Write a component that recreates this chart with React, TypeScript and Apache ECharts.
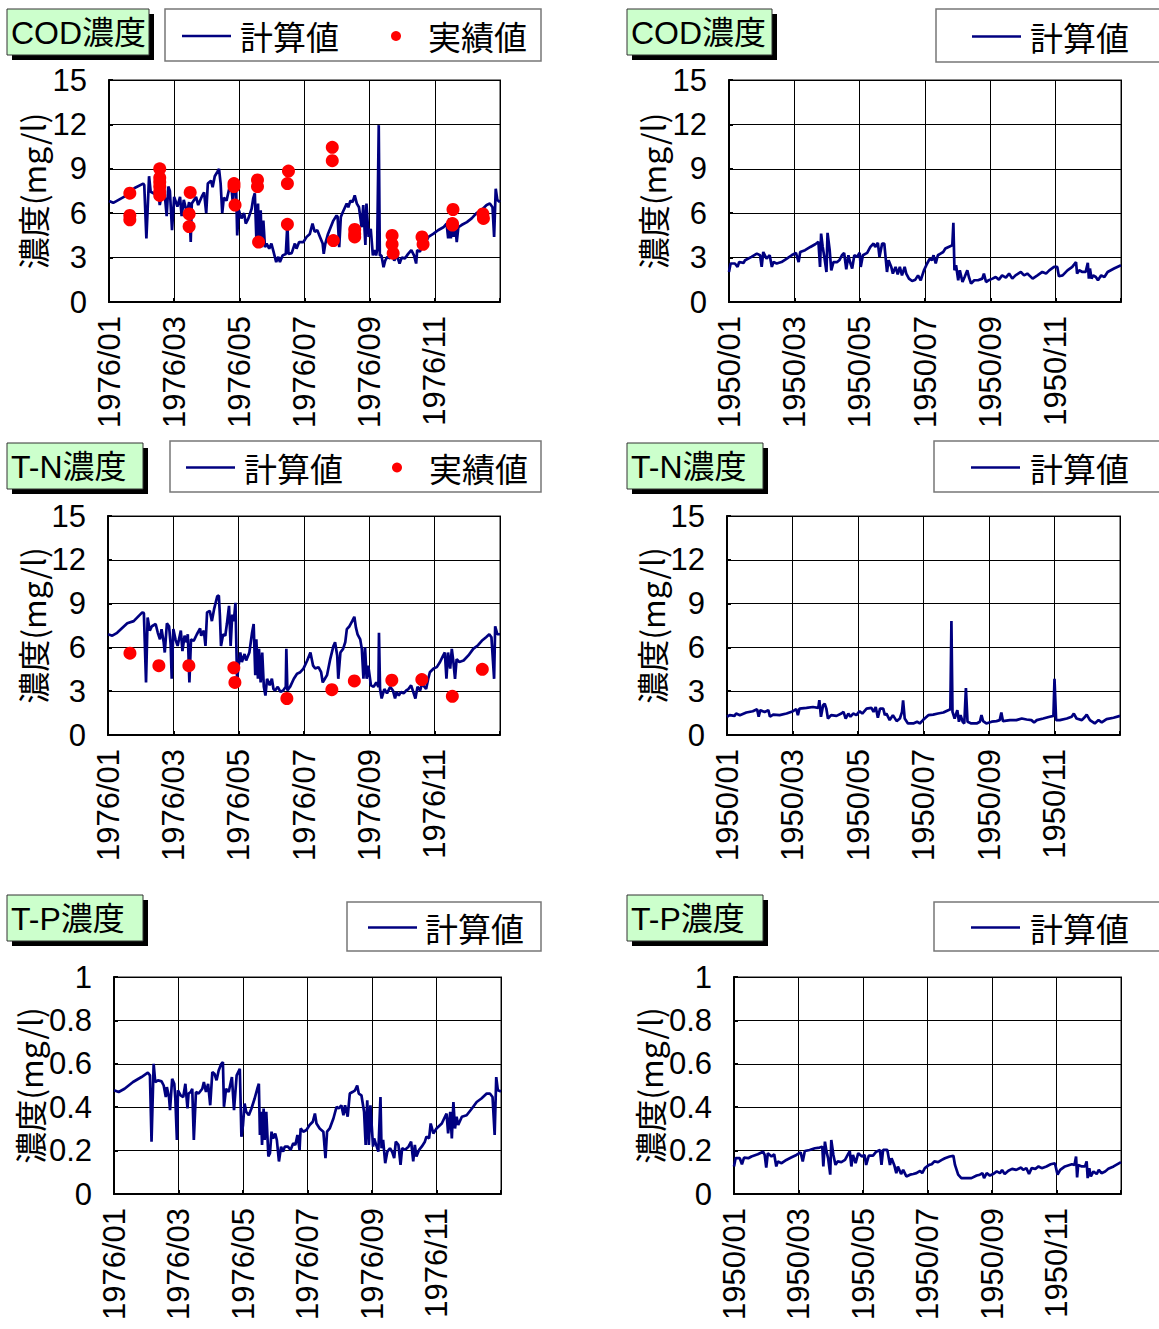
import React, { useEffect, useRef } from "react";
import * as echarts from "echarts";

// ---- tick labels ----
const labels1976 = ["1976/01", "1976/03", "1976/05", "1976/07", "1976/09", "1976/11", ""];
const labels1950 = ["1950/01", "1950/03", "1950/05", "1950/07", "1950/09", "1950/11", ""];
const yNameText = "濃度(mg/l)";
const seriesCalcName = "計算値";
const seriesObsName = "実績値";

// ---- data: [day of year, value] ----
const codCalc1976 = [
  [0, 6.83], [4, 6.7], [16.5, 7.2], [24, 7.7], [32, 8.0], [33, 7.9], [35, 4.3], [37.5, 8.5], [39, 7.45], [43, 7.3],
  [46, 7.6], [47.5, 6.55], [49.5, 7.3], [52.5, 7.0], [54, 5.8], [55.5, 7.8], [57, 7.5], [59, 4.85], [61, 7.1], [64, 6.45],
  [66.5, 7.1], [68, 5.8], [70, 6.9], [73, 6.0], [75, 6.75], [76.5, 4.05], [77.5, 6.65], [81.5, 7.1], [83.5, 6.55], [87, 7.15],
  [89, 7.4], [91, 6.0], [92.5, 8.0], [95.5, 8.2], [97, 7.75], [99, 8.5], [101.5, 8.8], [103, 9.0], [104.5, 8.0], [106, 6.0],
  [107.5, 7.05], [110, 6.85], [112.5, 7.65], [114, 8.25], [116, 6.65], [117.5, 8.1], [119, 7.65], [120, 4.5], [121.5, 6.2], [124, 5.65],
  [126.5, 6.0], [128, 5.3], [130.5, 5.65], [133.5, 6.3], [135, 7.0], [136.5, 7.35], [138, 4.15], [139.5, 6.65], [140.5, 3.95], [142, 6.2],
  [143, 3.7], [144.5, 5.5], [146, 3.7], [147.5, 3.95], [150, 3.6], [152, 3.95], [154, 3.4], [156.5, 2.7], [158.5, 3.05], [160, 2.7],
  [162.5, 3.15], [165.5, 3.25], [167, 5.3], [168, 3.25], [171, 3.3], [174, 3.95], [175.5, 3.6], [178, 4.05], [182, 4.05], [185, 4.4],
  [188, 4.6], [190.5, 5.3], [192.5, 4.75], [195, 4.85], [197.5, 4.4], [200, 3.95], [201, 3.25], [202.5, 3.95], [205, 4.6], [210, 5.5],
  [213, 5.85], [214, 5.75], [215.5, 3.7], [217, 5.75], [219, 6.1], [222.5, 6.65], [224, 6.4], [226, 6.85], [228, 6.75], [230, 7.2],
  [232, 6.65], [234, 6.4], [236.5, 5.05], [238, 6.55], [240, 3.85], [241, 6.65], [243, 4.4], [245, 4.95], [247, 3.15], [248.5, 3.5],
  [250, 3.15], [251, 3.5], [252.5, 11.95], [253.5, 3.15], [255, 3.15], [257, 2.35], [258.5, 2.8], [260.5, 3.05], [263, 2.95], [265.5, 3.25],
  [267, 2.8], [269.5, 3.15], [272, 2.6], [274, 3.0], [277, 2.95], [280, 3.25], [283, 3.5], [285.5, 3.15], [287.5, 2.6], [288.5, 3.5],
  [291, 3.4], [293.5, 3.85], [296, 3.95], [299, 4.4], [303.5, 4.6], [308, 4.85], [313, 5.05], [316, 5.3], [317.5, 4.3], [318.5, 5.65],
  [320, 4.3], [321, 5.3], [322.5, 4.4], [324, 5.3], [325.5, 4.05], [327, 5.05], [330, 5.2], [335, 5.4], [339.5, 5.65], [344, 6.0],
  [348.5, 6.2], [353.5, 6.55], [356.5, 6.65], [359, 6.4], [360.5, 4.4], [362, 7.65], [363.5, 6.9], [366, 6.75],
];
const codObs1976 = [
  [19.5, 7.35], [19.5, 5.85], [19.5, 5.55],
  [47.5, 9.0], [47.5, 8.4], [47.5, 8.1], [47.5, 7.8], [47.5, 7.45], [47.5, 7.2],
  [76, 7.4], [75, 5.95], [75, 5.1],
  [117, 8.0], [117, 7.8], [118, 6.55],
  [139, 8.25], [139, 7.8], [140, 4.05],
  [168, 8.85], [167, 8.0], [167, 5.25],
  [209, 10.45], [209, 9.55], [210, 4.15],
  [230, 4.9], [230, 4.6], [230, 4.4],
  [265, 4.5], [265, 3.9], [266, 3.3],
  [293, 4.4], [294, 3.9],
  [322, 6.25], [321.5, 5.3], [321.5, 5.2],
  [350, 5.95], [350.5, 5.65],
];
const tnCalc1976 = [
  [0, 6.9], [4, 6.8], [8.5, 7.0], [18, 7.65], [24, 7.8], [32, 8.4], [33.5, 8.35], [35.5, 3.6], [37, 8.05], [39, 7.15],
  [41, 7.45], [44.5, 7.6], [46.5, 7.0], [48.5, 6.55], [50, 7.25], [52, 6.35], [53, 5.65], [55, 7.65], [57, 7.45], [58.5, 6.2],
  [59.5, 3.85], [61, 7.25], [63, 6.55], [65, 6.1], [68, 7.15], [69.5, 5.75], [71.5, 6.8], [73.5, 6.35], [74.5, 6.9], [76, 3.6],
  [77.5, 6.55], [80, 6.45], [83, 6.9], [86, 7.3], [87, 6.8], [89.5, 7.15], [91, 6.1], [92.5, 8.4], [95, 8.5], [97, 7.8],
  [99, 8.6], [102, 9.5], [103.5, 9.55], [104.5, 8.15], [105.5, 6.1], [107.5, 6.9], [109.5, 6.8], [111, 7.6], [113, 8.85], [114.5, 6.1],
  [116, 8.25], [117.5, 7.8], [119, 9.05], [120.5, 3.85], [122, 4.75], [123.5, 5.65], [125, 5.0], [127.5, 5.55], [129, 5.1], [132, 5.65],
  [134.5, 7.0], [136, 7.6], [137.5, 4.1], [138.5, 6.55], [140, 3.85], [141, 5.9], [142.5, 3.6], [144, 5.65], [145.5, 3.3], [147, 2.7],
  [148.5, 3.85], [151, 3.4], [153, 3.85], [154.5, 3.15], [156, 3.05], [158.5, 3.3], [161, 2.95], [163.5, 3.05], [166, 3.3], [166.5, 5.9],
  [167.5, 3.05], [170, 3.3], [173.5, 3.85], [176.5, 4.2], [179.5, 4.3], [182.5, 4.55], [186, 5.1], [189, 5.65], [191.5, 4.75], [193.5, 4.55],
  [196.5, 4.65], [199, 4.3], [200.5, 3.6], [202.5, 3.85], [204.5, 4.1], [207.5, 5.2], [210.5, 6.1], [212, 6.35], [214, 5.45], [215, 3.85],
  [217, 5.65], [219.5, 5.9], [221.5, 6.35], [223, 7.25], [225.5, 7.45], [228, 7.8], [230, 8.1], [231.5, 7.35], [233, 6.9], [235.5, 6.55],
  [237, 5.9], [238.5, 3.85], [240, 6.0], [241.5, 3.85], [243, 4.75], [245.5, 3.4], [248, 3.3], [250.5, 3.6], [252.5, 3.3], [253, 7.0],
  [254, 3.15], [255.5, 2.5], [258, 3.15], [260.5, 2.85], [263.5, 3.3], [266, 3.05], [268, 2.5], [269.5, 2.95], [271.5, 2.7], [273.5, 2.95],
  [276, 2.85], [278.5, 3.05], [280.5, 3.15], [283, 3.4], [285, 2.95], [287, 2.5], [289, 3.3], [291.5, 3.05], [293, 3.5], [295.5, 3.3],
  [297, 3.15], [299, 3.85], [300.5, 4.3], [304, 4.55], [307, 4.65], [310, 5.0], [313, 5.45], [314.5, 5.65], [316, 3.85], [317.5, 5.65],
  [319.5, 4.55], [321, 5.9], [322.5, 5.0], [324, 3.85], [325.5, 5.2], [328, 5.0], [332, 5.1], [336.5, 5.45], [341, 5.9], [345.5, 6.15],
  [349, 6.45], [353, 6.7], [356, 6.9], [358, 6.7], [360.5, 3.85], [361.5, 7.45], [363.5, 6.9], [366, 6.9],
];
const tnObs1976 = [
  [20.5, 5.6], [47.5, 4.75], [75.5, 4.75], [117.5, 4.6], [118.5, 3.6], [167, 2.5],
  [209, 3.1], [230, 3.7], [265, 3.75], [293, 3.8], [321.5, 2.65], [349.5, 4.5],
];
const tpCalc1976 = [
  [0, 0.478], [4.4, 0.47], [10, 0.485], [18, 0.516], [26, 0.539], [32, 0.559], [34, 0.547], [35.5, 0.241], [37.5, 0.6], [39, 0.516],
  [41.5, 0.524], [45, 0.519], [47, 0.5], [49, 0.447], [50, 0.493], [52, 0.447], [53, 0.386], [55, 0.531], [57, 0.508], [58, 0.44],
  [59.5, 0.249], [60.5, 0.478], [63, 0.455], [65.5, 0.447], [67.5, 0.508], [69.5, 0.394], [70.5, 0.463], [72.5, 0.47], [74, 0.485], [75.5, 0.249],
  [77.5, 0.47], [80, 0.463], [83.5, 0.485], [85, 0.516], [87, 0.47], [89, 0.508], [91, 0.409], [93, 0.562], [95, 0.554], [97, 0.524],
  [99, 0.569], [101.5, 0.6], [103, 0.608], [104, 0.402], [106, 0.485], [108.5, 0.47], [110.5, 0.516], [111.5, 0.539], [113.5, 0.386], [116, 0.547],
  [117.5, 0.562], [119, 0.577], [120.5, 0.264], [122, 0.318], [123.5, 0.417], [125, 0.379], [127.5, 0.363], [130, 0.394], [133, 0.44], [135.5, 0.485],
  [137, 0.508], [138, 0.272], [139, 0.379], [140, 0.226], [141.5, 0.394], [142.5, 0.249], [144, 0.379], [146, 0.173], [147.5, 0.188], [149, 0.287],
  [150.5, 0.256], [152.5, 0.279], [154, 0.249], [156, 0.15], [158, 0.218], [160, 0.195], [161.5, 0.218], [164.5, 0.218], [167, 0.203], [169.5, 0.234],
  [171.5, 0.226], [173.5, 0.272], [175.5, 0.203], [176.5, 0.302], [179, 0.287], [182, 0.295], [185, 0.318], [188, 0.333], [190, 0.371], [191.5, 0.325],
  [194.5, 0.302], [198, 0.287], [200, 0.165], [201.5, 0.287], [204, 0.302], [207.5, 0.348], [210.5, 0.402], [212.5, 0.394], [215, 0.409], [217, 0.363],
  [218.5, 0.409], [221, 0.356], [223, 0.463], [225.5, 0.47], [228, 0.478], [230, 0.5], [231.5, 0.463], [234, 0.455], [236.5, 0.379], [238, 0.226],
  [239.5, 0.432], [241, 0.226], [242.5, 0.409], [245, 0.218], [246, 0.256], [248.5, 0.218], [250, 0.195], [252, 0.447], [253, 0.211], [254.5, 0.249],
  [256.5, 0.142], [258.5, 0.195], [261, 0.211], [263, 0.195], [265, 0.165], [266.5, 0.241], [269, 0.226], [271, 0.134], [272.5, 0.211], [275, 0.203],
  [278.5, 0.218], [281, 0.241], [283, 0.15], [284.5, 0.226], [286, 0.173], [288.5, 0.203], [291, 0.218], [294, 0.241], [295.5, 0.264], [298, 0.256],
  [299.5, 0.325], [302, 0.279], [305, 0.302], [310, 0.325], [313, 0.356], [314.5, 0.371], [316, 0.279], [318, 0.379], [319.5, 0.256], [321, 0.424],
  [322.5, 0.302], [324, 0.356], [325.5, 0.318], [329, 0.356], [333.5, 0.363], [338.5, 0.394], [343, 0.424], [347.5, 0.44], [352.5, 0.463], [355.5, 0.463],
  [358, 0.447], [360, 0.272], [361.5, 0.539], [363, 0.478], [366, 0.473],
];
const codCalc1950 = [
  [0, 2.03], [1.5, 2.6], [5.5, 2.6], [8, 2.37], [9.5, 2.7], [13.5, 2.64], [15, 2.82], [21, 3.05], [26, 3.27], [29, 3.16],
  [30.5, 2.37], [32, 3.38], [35, 2.93], [38, 3.16], [40, 2.37], [41.5, 2.7], [44.5, 2.6], [49, 2.7], [54, 2.93], [58.5, 3.16],
  [62.5, 3.32], [65, 2.7], [66.5, 3.38], [71, 3.5], [76, 3.72], [80.5, 3.9], [83.5, 4.06], [85, 2.37], [86, 4.62], [87.5, 3.72],
  [89, 3.05], [91, 2.03], [92, 4.67], [94, 3.5], [95.5, 2.14], [97.5, 2.7], [101, 2.7], [103, 2.82], [105.5, 3.16], [107.5, 3.32],
  [109.5, 2.21], [111.5, 3.16], [113, 2.7], [115, 2.26], [117, 3.16], [119.5, 3.05], [122, 3.32], [123, 2.37], [125, 3.16], [129, 3.32],
  [132, 3.72], [135, 3.95], [136.5, 3.72], [139, 4.0], [140.5, 3.05], [143, 3.95], [145, 3.95], [147.5, 2.03], [149, 2.82], [151.5, 2.37],
  [153, 1.92], [155.5, 2.37], [157.5, 1.87], [159.5, 2.37], [161.5, 1.8], [164, 2.37], [165.5, 1.92], [168, 1.58], [171, 1.42], [174, 1.51],
  [176.5, 1.8], [179, 1.47], [182, 2.14], [185, 2.6], [187.5, 2.93], [189.5, 2.82], [191, 3.16], [193, 2.6], [195, 3.16], [197.5, 3.27],
  [200, 3.38], [202, 3.61], [205, 3.72], [208.5, 3.83], [209.5, 5.35], [210.5, 2.14], [212, 2.48], [214, 1.47], [215.5, 2.14], [218, 1.35],
  [220, 1.69], [222.5, 2.14], [224, 1.69], [226, 1.24], [229, 1.47], [232.5, 1.47], [236.5, 1.58], [238, 1.92], [240, 1.35], [242.5, 1.47],
  [246, 1.58], [249, 1.69], [252, 1.51], [255, 1.8], [258.5, 1.65], [261.5, 1.92], [264.5, 1.58], [267.5, 1.8], [272.5, 2.03], [275.5, 1.8],
  [278.5, 1.92], [283.5, 1.58], [288, 1.8], [292.5, 2.03], [296, 1.92], [299, 2.14], [303.5, 2.37], [306.5, 2.37], [308, 1.74], [311.5, 1.8],
  [316, 2.14], [320.5, 2.37], [324, 2.7], [325, 1.92], [327, 2.14], [330, 2.03], [333, 2.03], [335, 2.64], [336, 1.58], [337, 2.26],
  [338.5, 1.58], [340, 1.8], [342.5, 1.69], [344.5, 1.47], [347.5, 1.8], [350.5, 1.69], [353.5, 2.03], [359.5, 2.26], [366, 2.48],
];
const tnCalc1950 = [
  [0, 1.25], [2.5, 1.36], [7, 1.31], [8.5, 1.47], [12, 1.36], [18, 1.54], [24, 1.63], [28, 1.77], [29.5, 1.25], [31, 1.7],
  [35, 1.58], [38.5, 1.7], [40, 1.25], [43, 1.4], [49, 1.36], [55.5, 1.47], [61.5, 1.63], [64.5, 1.77], [66, 1.36], [67.5, 1.81],
  [74, 1.86], [80, 1.92], [85, 1.86], [86, 2.38], [87.5, 1.25], [89.5, 2.04], [91, 2.15], [92.5, 1.81], [94, 1.13], [97, 1.36],
  [102, 1.31], [106.5, 1.47], [108.5, 1.58], [110.5, 1.13], [113, 1.47], [115, 1.25], [117.5, 1.47], [120.5, 1.36], [123.5, 1.63], [126, 1.47],
  [130, 1.81], [134.5, 1.86], [136.5, 1.58], [138.5, 1.92], [140.5, 1.18], [142.5, 1.81], [145.5, 1.81], [147, 1.36], [148.5, 1.47], [151.5, 1.02],
  [154.5, 1.36], [158, 0.95], [161, 1.13], [163, 1.58], [164, 2.38], [165.5, 1.13], [168.5, 0.79], [173.5, 0.79], [177, 0.91], [179.5, 0.79],
  [182.5, 1.02], [187.5, 1.36], [192, 1.4], [196.5, 1.47], [201.5, 1.54], [206, 1.7], [208, 1.77], [209, 7.81], [210, 1.58], [212, 1.13],
  [214.5, 1.7], [216, 0.91], [217.5, 1.36], [219.5, 0.91], [221, 0.79], [222.5, 3.21], [224, 0.91], [227.5, 0.79], [232.5, 0.79], [235.5, 0.91],
  [237, 1.36], [238.5, 0.95], [241.5, 0.79], [246.5, 0.91], [251, 0.95], [254, 1.02], [255.5, 1.54], [257, 0.95], [263.5, 1.02], [269.5, 1.02],
  [274.5, 1.13], [279, 1.06], [283.5, 1.02], [286, 0.86], [288.5, 1.02], [294.5, 1.13], [300.5, 1.25], [304, 1.31], [305, 3.85], [306.5, 1.02],
  [310, 1.02], [316.5, 1.13], [321, 1.25], [323, 1.47], [325.5, 1.13], [330.5, 1.02], [333.5, 1.25], [335, 1.4], [338, 1.02], [342.5, 0.79],
  [346, 1.02], [349, 0.86], [353.5, 1.09], [360, 1.18], [366, 1.31],
];
const tpCalc1950 = [
  [0, 0.127], [1.5, 0.165], [5.5, 0.165], [7.5, 0.137], [9.5, 0.168], [13.5, 0.165], [16.5, 0.173], [22.5, 0.183], [27.5, 0.195], [29, 0.18],
  [30.5, 0.122], [32, 0.188], [35.5, 0.173], [38, 0.183], [40, 0.127], [41.5, 0.15], [45, 0.142], [49.5, 0.157], [54, 0.168], [59, 0.18],
  [63, 0.192], [65, 0.15], [67, 0.198], [71.5, 0.203], [76.5, 0.211], [81, 0.214], [83.5, 0.218], [84.5, 0.127], [86, 0.241], [87.5, 0.195],
  [89, 0.165], [91, 0.089], [92, 0.249], [94, 0.18], [96, 0.134], [98, 0.15], [101.5, 0.147], [105, 0.157], [107.5, 0.18], [109.5, 0.198],
  [111, 0.127], [112.5, 0.18], [115, 0.142], [117.5, 0.188], [121, 0.173], [123.5, 0.18], [125, 0.134], [127.5, 0.177], [131.5, 0.177], [134.5, 0.195],
  [138, 0.203], [139.5, 0.134], [141, 0.203], [145, 0.203], [147.5, 0.134], [149, 0.165], [151.5, 0.134], [153.5, 0.096], [155, 0.127], [158, 0.092],
  [160, 0.111], [163, 0.081], [166.5, 0.089], [169.5, 0.092], [172.5, 0.096], [176, 0.107], [178, 0.096], [180.5, 0.119], [184.5, 0.134], [187, 0.137],
  [189.5, 0.15], [193, 0.147], [196.5, 0.157], [199.5, 0.165], [204, 0.173], [207.5, 0.176], [209, 0.134], [212, 0.089], [215, 0.073], [220, 0.073],
  [224.5, 0.073], [229.5, 0.085], [232.5, 0.089], [235, 0.096], [236.5, 0.073], [239, 0.096], [242, 0.085], [245, 0.092], [248.5, 0.104], [251.5, 0.096],
  [253.5, 0.111], [256, 0.092], [259.5, 0.107], [263, 0.116], [267, 0.111], [271.5, 0.122], [273.5, 0.111], [276.5, 0.119], [279, 0.092], [281.5, 0.119],
  [285, 0.116], [288, 0.127], [291, 0.119], [295.5, 0.127], [299.5, 0.137], [303.5, 0.142], [306, 0.089], [308.5, 0.111], [313, 0.127], [319.5, 0.137],
  [322, 0.134], [323.5, 0.173], [324.5, 0.076], [325.5, 0.134], [329, 0.127], [332, 0.127], [333.5, 0.15], [334.5, 0.073], [336, 0.119], [337.5, 0.081],
  [340, 0.104], [343, 0.092], [345, 0.111], [347.5, 0.096], [351, 0.104], [354, 0.116], [359, 0.127], [366, 0.147],
];

const JP = "'Noto Sans CJK JP', sans-serif";
const NUM = "'Liberation Sans', Arial, sans-serif";
const TITLE_FONT = "'Liberation Sans', 'Noto Sans CJK JP', sans-serif";
const NAVY = "#000080";

type Panel = {
  grid: { left: number; top: number; width: number; height: number };
  xl: string[];
  yMax: number;
  yInt: number;
  nameGap: number;
  calc: number[][];
  obs?: number[][];
  title: { text: string; x: number; y: number; w: number; h: number };
  legend: { x: number; y: number; w: number; h: number; lx: number; tx: number; dx?: number; tx2?: number };
};

const panels: Panel[] = [
  {
    grid: { left: 109, top: 80, width: 391, height: 222 }, xl: labels1976, yMax: 15, yInt: 3, nameGap: 61,
    calc: codCalc1976, obs: codObs1976,
    title: { text: "COD濃度", x: 7, y: 9, w: 142, h: 46 },
    legend: { x: 165, y: 9, w: 376, h: 52, lx: 182, tx: 240, dx: 396, tx2: 428 },
  },
  {
    grid: { left: 729, top: 80, width: 392, height: 222 }, xl: labels1950, yMax: 15, yInt: 3, nameGap: 61,
    calc: codCalc1950,
    title: { text: "COD濃度", x: 627, y: 9, w: 145, h: 46 },
    legend: { x: 936, y: 9, w: 240, h: 53, lx: 972, tx: 1030 },
  },
  {
    grid: { left: 108, top: 516, width: 392, height: 219 }, xl: labels1976, yMax: 15, yInt: 3, nameGap: 60,
    calc: tnCalc1976, obs: tnObs1976,
    title: { text: "T-N濃度", x: 7, y: 443, w: 136, h: 46 },
    legend: { x: 170, y: 441, w: 371, h: 51, lx: 186, tx: 244, dx: 397, tx2: 429 },
  },
  {
    grid: { left: 727, top: 516, width: 393, height: 219 }, xl: labels1950, yMax: 15, yInt: 3, nameGap: 59,
    calc: tnCalc1950,
    title: { text: "T-N濃度", x: 627, y: 443, w: 136, h: 46 },
    legend: { x: 934, y: 441, w: 240, h: 51, lx: 971, tx: 1030 },
  },
  {
    grid: { left: 114, top: 977, width: 387, height: 217 }, xl: labels1976, yMax: 1, yInt: 0.2, nameGap: 66,
    calc: tpCalc1976,
    title: { text: "T-P濃度", x: 7, y: 895, w: 136, h: 46 },
    legend: { x: 347, y: 902, w: 194, h: 49, lx: 368, tx: 425 },
  },
  {
    grid: { left: 734, top: 977, width: 387, height: 217 }, xl: labels1950, yMax: 1, yInt: 0.2, nameGap: 66,
    calc: tpCalc1950,
    title: { text: "T-P濃度", x: 627, y: 895, w: 136, h: 46 },
    legend: { x: 934, y: 902, w: 240, h: 49, lx: 971, tx: 1030 },
  },
];

function buildGraphic() {
  const els: any[] = [];
  panels.forEach((p) => {
    const t = p.title;
    els.push({ type: "rect", shape: { x: t.x + 5, y: t.y + 5, width: t.w, height: t.h }, style: { fill: "#000" }, z: 10 });
    els.push({ type: "rect", shape: { x: t.x, y: t.y, width: t.w, height: t.h }, style: { fill: "#CCFFCC", stroke: "#333", lineWidth: 1 }, z: 11 });
    els.push({
      type: "text", x: t.x + 4, y: t.y + t.h / 2 + 1, z: 12,
      style: { text: t.text, fill: "#000", fontSize: 32, fontFamily: TITLE_FONT, align: "left", verticalAlign: "middle" },
    });
    const l = p.legend;
    const cy = l.y + l.h / 2 + 1;
    els.push({ type: "rect", shape: { x: l.x, y: l.y, width: l.w, height: l.h }, style: { fill: "#fff", stroke: "#777", lineWidth: 1.5 }, z: 10 });
    els.push({ type: "line", shape: { x1: l.lx, y1: cy, x2: l.lx + 49, y2: cy }, style: { stroke: NAVY, lineWidth: 2.5 }, z: 11 });
    els.push({
      type: "text", x: l.tx, y: cy, z: 11,
      style: { text: seriesCalcName, fill: "#000", fontSize: 33, fontFamily: JP, align: "left", verticalAlign: "middle" },
    });
    if (l.dx != null) {
      els.push({ type: "circle", shape: { cx: l.dx, cy, r: 5 }, style: { fill: "#ff0000" }, z: 11 });
      els.push({
        type: "text", x: l.tx2, y: cy, z: 11,
        style: { text: seriesObsName, fill: "#000", fontSize: 33, fontFamily: JP, align: "left", verticalAlign: "middle" },
      });
    }
  });
  return els;
}

export default function App() {
  const ref = useRef<HTMLDivElement>(null);
  useEffect(() => {
    if (!ref.current) return;
    const chart = echarts.init(ref.current, null, { renderer: "svg" });
    const grid = panels.map((p) => ({
      ...p.grid, show: true, borderColor: "#8a8a8a", borderWidth: 2, backgroundColor: "#fff", containLabel: false,
    }));
    const xAxis = panels.map((p, i) => ({
      type: "value", gridIndex: i, min: 0, max: 366, interval: 61,
      axisLine: { show: true, onZero: false, lineStyle: { color: "#000", width: 2 } },
      axisTick: { show: true, inside: true, length: 4, lineStyle: { color: "#000", width: 2 } },
      splitLine: { show: true, lineStyle: { color: "#000", width: 1 } },
      axisLabel: {
        rotate: 90, margin: 14, fontSize: 31, fontFamily: NUM, color: "#000",
        formatter: (v: number) => p.xl[Math.round(v / 61)] ?? "",
      },
    }));
    const yAxis = panels.map((p, i) => ({
      type: "value", gridIndex: i, min: 0, max: p.yMax, interval: p.yInt,
      name: yNameText, nameLocation: "middle", nameRotate: 90, nameGap: p.nameGap,
      nameTextStyle: { fontSize: 32, fontFamily: JP, color: "#000" },
      axisLine: { show: true, lineStyle: { color: "#000", width: 2 } },
      axisTick: { show: true, inside: true, length: 4, lineStyle: { color: "#000", width: 2 } },
      splitLine: { show: true, lineStyle: { color: "#000", width: 1 } },
      axisLabel: { margin: 22, fontSize: 31, fontFamily: NUM, color: "#000" },
    }));
    const series: any[] = [];
    panels.forEach((p, i) => {
      series.push({
        type: "line", name: seriesCalcName, xAxisIndex: i, yAxisIndex: i, data: p.calc,
        showSymbol: false, symbol: "none", lineStyle: { color: NAVY, width: 2.7 }, itemStyle: { color: NAVY },
        z: 3,
      });
      if (p.obs) {
        series.push({
          type: "scatter", name: seriesObsName, xAxisIndex: i, yAxisIndex: i, data: p.obs,
          symbol: "circle", symbolSize: 13, itemStyle: { color: "#ff0000", opacity: 1 }, z: 4,
        });
      }
    });
    chart.setOption({
      animation: false,
      backgroundColor: "#fff",
      grid, xAxis, yAxis, series,
      graphic: buildGraphic(),
    });
    return () => chart.dispose();
  }, []);
  return <div ref={ref} style={{ position: "absolute", left: 0, top: 0, width: 1159, height: 1329 }} />;
}
